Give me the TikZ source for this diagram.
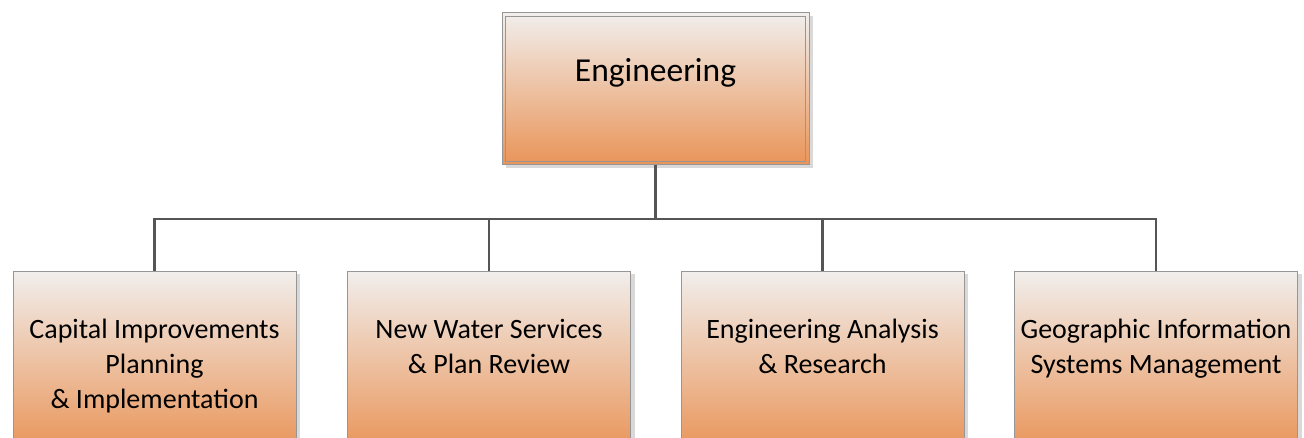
\documentclass[tikz,border=0pt]{standalone}
\usepackage{fontspec}
\setmainfont{Carlito}
\definecolor{boxtop}{RGB}{241,238,236}
\definecolor{boxbot}{RGB}{233,148,88}
\definecolor{boxline}{RGB}{150,150,150}
\definecolor{linkgray}{RGB}{85,85,85}
\usetikzlibrary{positioning,calc,shadows}
\tikzset{
    orgbox/.style={draw=boxline, line width=1pt, top color=boxtop, bottom color=boxbot,
        drop shadow={shadow xshift=4pt, shadow yshift=-3pt, fill=black!25, opacity=0.6}},
    headbox/.style={orgbox, minimum width=307pt, minimum height=152pt,
        font=\fontsize{33.5}{40}\selectfont, text height=22pt, text depth=36pt},
    subbox/.style={orgbox, anchor=north, minimum width=283pt, minimum height=180pt},
    subtext/.style={anchor=north, yshift=-45pt, align=center,
        font=\fontsize{28}{35}\selectfont},
    link/.style={draw=linkgray, line width=2.6pt}
}
\begin{document}
\begin{tikzpicture}[x=1pt, y=1pt]
    \useasboundingbox (0,0) rectangle (1304,438);
    \clip (0,0) rectangle (1304,438);
    % head of the chart
    \node[headbox] (eng) at (655.5,349) {Engineering};
    \draw[boxline, line width=0.8pt] ([shift={(4,4)}]eng.south west) rectangle ([shift={(-4,-4)}]eng.north east);
    % sections
    \node[subbox, label={[subtext]north:{Capital Improvements\\Planning\\\& Implementation}}] (cip) at (154.5,167) {};
    \node[subbox, label={[subtext]north:{New Water Services\\\& Plan Review}}] (nws) at (489,167) {};
    \node[subbox, label={[subtext]north:{Engineering Analysis\\\& Research}}] (ear) at (822.5,167) {};
    \node[subbox, label={[subtext]north:{Geographic Information\\Systems Management}}] (gis) at (1156,167) {};
    % connectors
    \coordinate (bus) at (0,219);
    \draw[link] (eng.south) -- (eng.south |- bus);
    \draw[link] (cip.north) |- (gis.north |- bus) -- (gis.north);
    \draw[link] (nws.north) -- (nws.north |- bus);
    \draw[link] (ear.north) -- (ear.north |- bus);
\end{tikzpicture}
\end{document}
